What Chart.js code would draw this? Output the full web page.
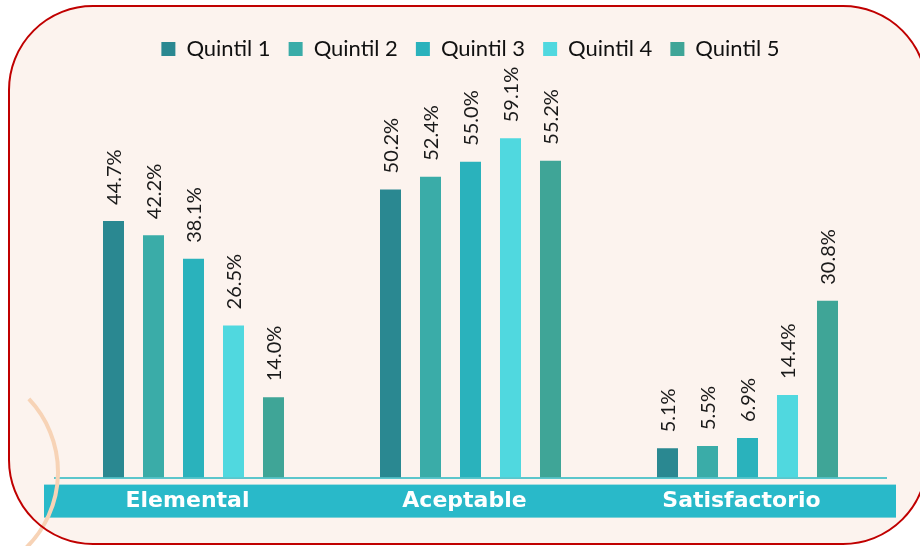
<!DOCTYPE html>
<html><head><meta charset="utf-8">
<script src="https://cdn.jsdelivr.net/npm/chart.js@4"></script>
<style>html,body{margin:0;padding:0;background:#fff}#w{width:920px;height:546px}</style>
</head><body><div id="w"><canvas id="c"></canvas></div>
<script>
const categories = ["Elemental", "Aceptable", "Satisfactorio"];
const seriesNames = ["Quintil 1", "Quintil 2", "Quintil 3", "Quintil 4", "Quintil 5"];
const quintil1 = [44.7, 50.2, 5.1];
const quintil2 = [42.2, 52.4, 5.5];
const quintil3 = [38.1, 55.0, 6.9];
const quintil4 = [26.5, 59.1, 14.4];
const quintil5 = [14.0, 55.2, 30.8];
const seriesColors = ["#2a8891", "#3aaca8", "#2ab2bc", "#50d8df", "#3fa597"];

const values = [quintil1, quintil2, quintil3, quintil4, quintil5];

function roundRect(ctx, x, y, w, h, r) {
  ctx.beginPath();
  ctx.moveTo(x + r, y);
  ctx.lineTo(x + w - r, y);
  ctx.arcTo(x + w, y, x + w, y + r, r);
  ctx.lineTo(x + w, y + h - r);
  ctx.arcTo(x + w, y + h, x + w - r, y + h, r);
  ctx.lineTo(x + r, y + h);
  ctx.arcTo(x, y + h, x, y + h - r, r);
  ctx.lineTo(x, y + r);
  ctx.arcTo(x, y, x + r, y, r);
  ctx.closePath();
}

const decor = {
  id: "decor",
  beforeDraw(chart) {
    const ctx = chart.ctx;
    ctx.save();
    ctx.fillStyle = "#ffffff";
    ctx.fillRect(0, 0, chart.width, chart.height);
    roundRect(ctx, 9, 6, 918, 538, 84);
    ctx.fillStyle = "#fcf3ee";
    ctx.fill();
    const xs = chart.scales.x;
    const top = xs.top;
    ctx.fillStyle = "#29b9c9";
    ctx.fillRect(44, top + 7, 852, 33);
    ctx.restore();
  },
  afterDraw(chart) {
    const ctx = chart.ctx;
    ctx.save();
    ctx.strokeStyle = "#f7d3b6";
    ctx.lineWidth = 4;
    ctx.beginPath();
    ctx.arc(-48, 472, 106, -0.76, 0.8);
    ctx.stroke();
    roundRect(ctx, 9, 6, 918, 538, 84);
    ctx.strokeStyle = "#c00000";
    ctx.lineWidth = 2;
    ctx.stroke();
    ctx.restore();
  }
};

const valueLabels = {
  id: "valueLabels",
  afterDatasetsDraw(chart) {
    const ctx = chart.ctx;
    ctx.save();
    ctx.fillStyle = "#1a1a1a";
    ctx.font = "20px Lato, 'Liberation Sans', sans-serif";
    ctx.textAlign = "left";
    ctx.textBaseline = "middle";
    chart.data.datasets.forEach((ds, di) => {
      chart.getDatasetMeta(di).data.forEach((bar, i) => {
        const v = ds.data[i];
        ctx.save();
        ctx.translate(bar.x + 1, bar.y - 16);
        ctx.rotate(-Math.PI / 2);
        ctx.fillText(v.toFixed(1) + "%", 0, 0);
        ctx.restore();
      });
    });
    ctx.restore();
  }
};

new Chart(document.getElementById("c"), {
  type: "bar",
  data: {
    labels: categories,
    datasets: seriesNames.map((n, i) => ({
      label: n,
      data: values[i],
      backgroundColor: seriesColors[i],
      barPercentage: 0.525,
      categoryPercentage: 0.722
    }))
  },
  options: {
    responsive: true,
    maintainAspectRatio: false,
    animation: false,
    layout: { padding: { left: 55, right: 34, top: 20, bottom: 22 } },
    plugins: {
      legend: {
        position: "top",
        labels: {
          boxWidth: 14, boxHeight: 14, padding: 18,
          color: "#111",
          font: { family: "Lato, 'Liberation Sans', sans-serif", size: 22 }
        }
      },
      tooltip: { enabled: false }
    },
    scales: {
      x: {
        grid: { display: false, drawTicks: false },
        border: { display: true, color: "#5bc6cc", width: 2 },
        ticks: {
          color: "#ffffff",
          padding: 10,
          labelOffset: -6,
          font: { family: "'DejaVu Sans', sans-serif", size: 22, weight: "bold" }
        }
      },
      y: {
        display: false,
        min: 0,
        max: 71.0
      }
    }
  },
  plugins: [decor, valueLabels]
});
</script>
</body></html>
